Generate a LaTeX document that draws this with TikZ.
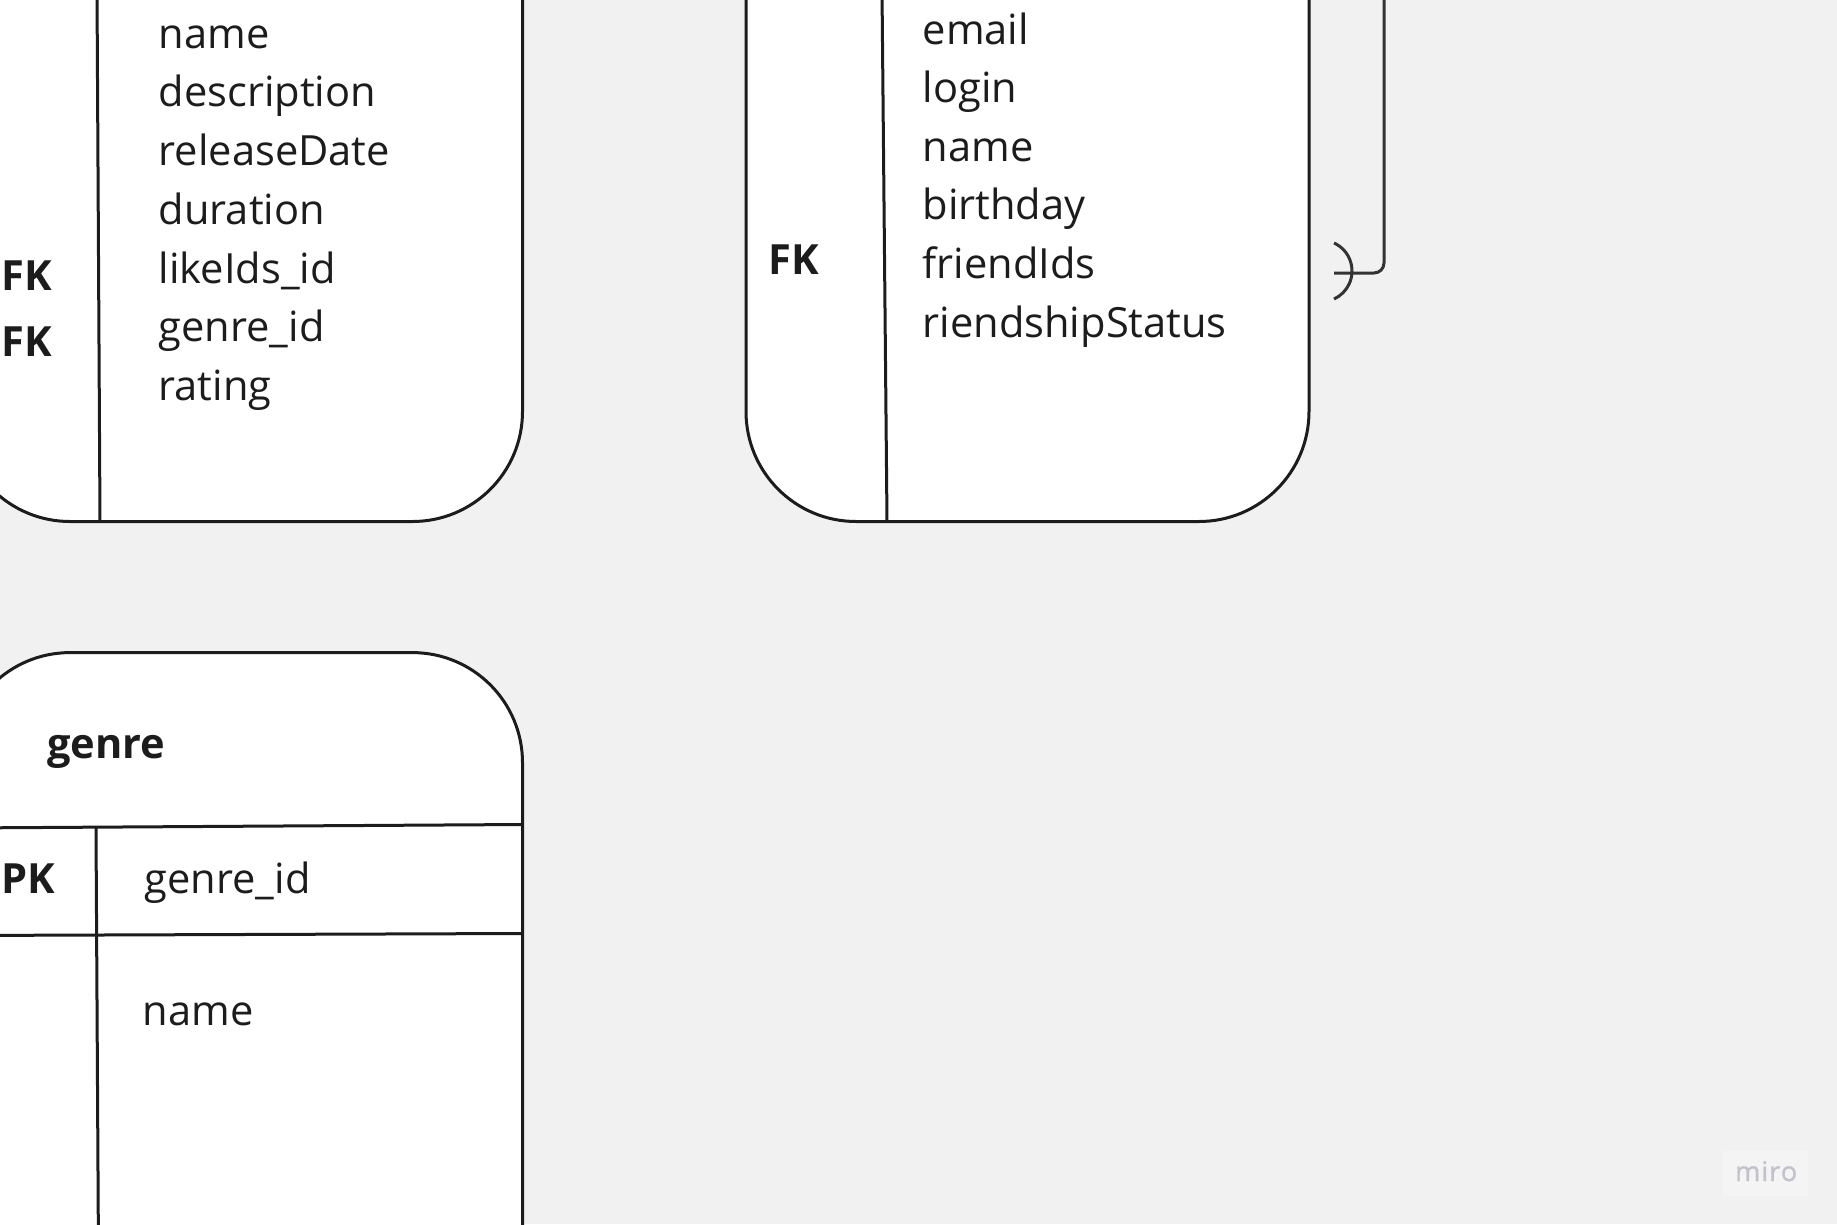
\documentclass[tikz,border=0pt]{standalone}
\usepackage{fontspec}
\setmainfont{Open Sans}
\definecolor{bg}{HTML}{F1F1F1}
\definecolor{ink}{HTML}{1C1C1C}
\definecolor{connink}{HTML}{333333}
\definecolor{wmbox}{HTML}{F4F4F4}
\definecolor{wmtext}{HTML}{C2C2CC}
\begin{document}
\begin{tikzpicture}[x=1pt,y=-1pt,
  tablebox/.style={draw=ink, fill=white, line width=3pt, rounded corners=110pt},
  divline/.style={draw=ink, line width=3pt},
  field/.style={anchor=base west, inner sep=0pt, text=ink, font=\fontsize{41.6}{49}\selectfont},
  keylbl/.style={anchor=base west, inner sep=0pt, text=ink, font=\fontsize{41.6}{49}\selectfont\bfseries},
  conn/.style={draw=connink, line width=3pt}]
\useasboundingbox (0,0) rectangle (1837,1224);
\fill[bg] (0,0) rectangle (1837,1224);
\clip (0,0) rectangle (1837,1224);

% ---------- film table ----------
\draw[tablebox] (-40,-300) rectangle (522.5,521.5);
\draw[divline] (97,-10) -- (100,521.5);
\node[field] (fname)   at (158.5,48.2)  {name};
\node[field] (fdesc)   at (158.5,106.9) {description};
\node[field] (frel)    at (158.5,165.6) {releaseDate};
\node[field] (fdur)    at (158.5,224.3) {duration};
\node[field] (flike)   at (158.5,283.0) {likeIds\_id};
\node[field] (fgenre)  at (158.5,341.7) {genre\_id};
\node[field] (frating) at (158.5,400.4) {rating};
\node[keylbl] (ffk1) at (1,290.3) {FK};
\node[keylbl] (ffk2) at (1,356.8) {FK};

% ---------- user table ----------
\draw[tablebox] (746,-300) rectangle (1309,521.5);
\draw[divline] (882,-10) -- (887,521.5);
\node[field] (uemail)  at (922.5,44.0)  {email};
\node[field] (ulogin)  at (922.5,102.6) {login};
\node[field] (uname)   at (922.5,161.2) {name};
\node[field] (ubirth)  at (922.5,219.8) {birthday};
\node[field] (ufriend) at (922.5,278.4) {friendIds};
\node[field] (ustatus) at (922.5,337.0) {riendshipStatus};
\node[keylbl] (ufk) at (768,274.5) {FK};

% ---------- relation connector ----------
\coordinate (relTop) at (1384,-20);
\coordinate (relEnd) at (1334,273);
\draw[conn, rounded corners=10pt] (relTop) |- (relEnd);
\draw[conn] (1321.2,271) ++(-65.4:30.8) arc[start angle=-65.4, end angle=65.4, radius=30.8];

% ---------- genre table ----------
\draw[tablebox] (-40,652.6) rectangle (522.5,1500);
\draw[divline] (-40,828) -- (522.5,824.5);
\draw[divline] (-40,935.5) -- (522.5,933.5);
\draw[divline] (96,828) -- (98.4,1240);
\node[keylbl] (gtitle) at (47,758) {genre};
\node[keylbl] (gpk) at (1,893) {PK};
\node[field] (gid) at (144.5,893) {genre\_id};
\node[field] (gname) at (142.5,1025) {name};

% ---------- watermark ----------
\fill[wmbox] (1723,1151) rectangle (1808,1196);
\node[anchor=base west, inner sep=0pt, text=wmtext, font=\fontsize{27}{30}\selectfont\addfontfeatures{LetterSpace=4,FakeBold=1.2}] (wm) at (1735,1181) {miro};
\end{tikzpicture}
\end{document}
